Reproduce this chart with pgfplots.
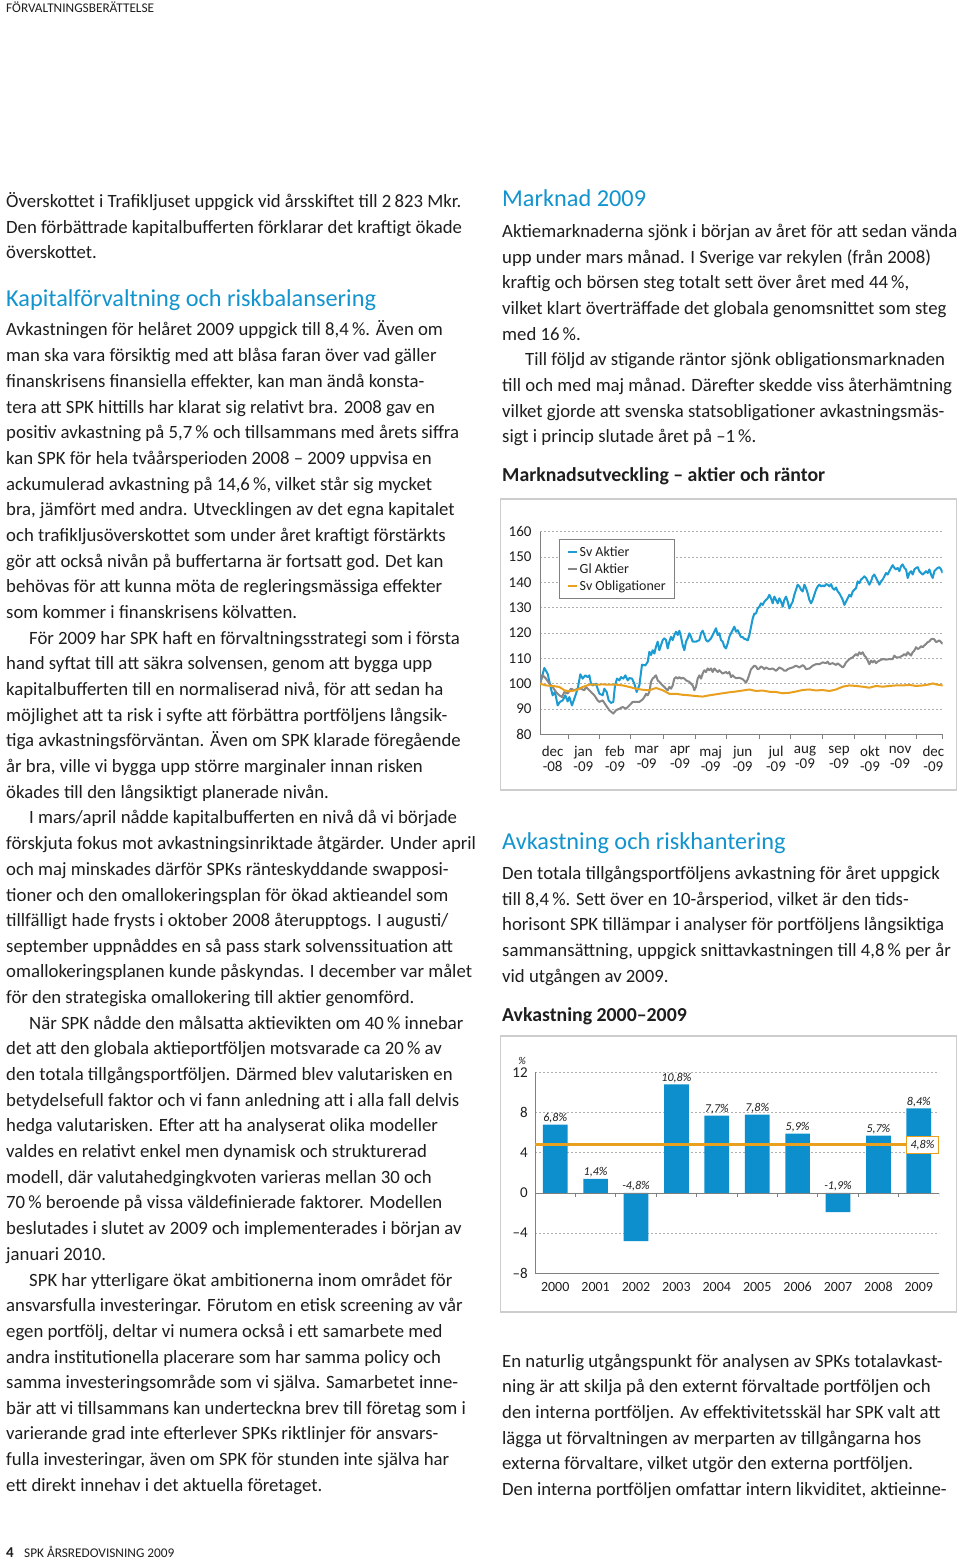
\documentclass[border=0pt]{standalone}
\usepackage{fontspec}
\setmainfont{Carlito}
\usepackage{pgfplots}
\usepackage{pgfplotstable}
\pgfplotsset{compat=1.18}
\definecolor{headblue}{RGB}{18,148,206}
\definecolor{barblue}{RGB}{13,143,205}
\definecolor{lineblue}{RGB}{27,155,209}
\definecolor{linegray}{RGB}{135,135,135}
\definecolor{lineorange}{RGB}{232,160,30}
\definecolor{framegray}{RGB}{205,205,205}
\definecolor{axisgray}{RGB}{128,128,128}
\definecolor{gridgray}{RGB}{175,175,175}
\definecolor{textcol}{RGB}{30,30,30}
\newcommand\bodyfont{\fontsize{18.75}{22}\selectfont}
\newcommand\headfont{\fontsize{24.3}{28}\selectfont}
\newcommand\subfont{\fontsize{19.8}{23}\bfseries\selectfont}
\newcommand\chartfont{\fontsize{15}{15}\selectfont}
\newcommand\legfont{\fontsize{14}{16}\selectfont}
\newcommand\labfont{\fontsize{12}{13}\itshape\selectfont}
\newcommand\Ln[3]{\node[anchor=base west,inner sep=0pt,font=\bodyfont,text=textcol] at (#1pt,-#2pt) {#3};}
\newcommand\Hd[3]{\node[anchor=base west,inner sep=0pt,font=\headfont,text=headblue] at (#1pt,-#2pt) {#3};}
\newcommand\Sb[3]{\node[anchor=base west,inner sep=0pt,font=\subfont,text=textcol] at (#1pt,-#2pt) {#3};}

\pgfplotstableread{
x y
120 100
133 106.2
143 103.9
153 98.0
158 95.4
165 96.7
173 91.4
180 92.8
188 93.4
196 95.4
203 93.0
208 94.7
216 91.4
223 94.1
233 98.0
241 103.7
248 102.0
256 103.3
263 102.6
268 103.3
273 100.0
278 99.3
288 100.0
293 98.0
298 96.1
308 95.4
313 98.0
320 96.7
326 93.4
333 92.4
340 92.8
345 99.3
351 102.0
358 101.3
363 102.6
370 102.0
376 103.3
383 101.3
388 102.2
396 102.0
403 100.0
410 96.7
418 99.3
426 107.5
436 107.2
443 108.6
448 112.6
453 111.3
458 113.2
463 111.9
468 114.6
473 116.6
478 113.2
483 115.2
488 117.2
493 117.9
498 117.2
503 113.9
508 116.6
513 118.5
518 117.2
523 119.2
528 120.5
533 119.2
538 120.9
543 118.5
548 115.2
553 113.2
558 116.6
563 117.9
568 119.9
573 118.5
578 116.6
588 116.6
598 117.2
603 119.9
608 120.9
613 119.2
618 117.2
623 116.6
628 117.2
633 117.9
638 119.2
643 120.5
648 121.9
653 119.2
658 119.9
663 117.2
668 116.6
673 114.6
678 113.9
683 115.9
688 118.5
693 119.9
698 121.2
703 122.5
708 120.5
713 121.1
718 119.7
723 118.4
728 118.4
733 117.7
738 117.5
743 117.1
748 119.1
753 122.4
758 125.7
763 127.7
768 127.7
773 129.7
778 130.4
783 131.7
788 131.1
793 132.4
798 133.1
803 133.7
808 135.1
813 133.7
818 131.7
823 134.4
828 133.1
833 131.7
838 133.7
843 132.4
848 130.4
853 133.1
858 134.4
863 132.4
868 129.7
873 131.1
878 132.4
883 135.1
888 137.1
893 139.1
898 138.4
903 137.1
908 136.4
913 139.1
918 137.7
923 135.7
928 133.1
933 131.7
938 133.1
943 135.1
948 137.1
953 138.4
958 139.1
963 138.4
968 138.8
973 138.4
978 139.3
983 139.1
988 138.4
993 139.3
998 137.7
1003 137.1
1008 138.0
1013 136.4
1018 135.7
1023 134.4
1028 133.1
1033 131.1
1038 132.4
1043 133.7
1048 135.1
1053 134.4
1058 136.4
1063 137.1
1068 137.7
1073 140.4
1078 139.7
1083 141.1
1088 141.7
1093 142.4
1098 141.7
1103 140.4
1108 139.1
1113 140.4
1118 142.4
1123 143.1
1128 141.7
1133 140.4
1138 139.1
1143 140.4
1148 141.1
1153 142.4
1158 143.7
1163 143.1
1168 144.4
1173 145.7
1178 146.8
1183 145.7
1188 145.1
1193 145.7
1198 144.4
1203 146.4
1208 147.1
1213 145.7
1218 145.1
1223 141.7
1228 143.7
1233 144.4
1238 143.1
1243 145.1
1248 145.7
1253 146.0
1258 144.4
1263 143.7
1268 143.1
1273 143.7
1278 144.4
1283 143.7
1288 145.1
1293 143.1
1298 141.7
1303 144.4
1308 145.1
1313 145.7
1318 146.0
1323 145.1
1328 143.7
}\svaktier

\pgfplotstableread{
x y
120 100
128 103.3
138 102.0
148 100.0
158 98.7
168 96.7
178 95.4
186 94.7
193 96.7
203 96.1
213 98.0
223 97.4
233 98.0
243 98.0
253 97.4
258 98.7
263 98.0
273 96.7
283 95.4
293 93.4
298 92.8
308 93.4
318 91.4
328 89.5
340 88.2
348 89.5
358 90.1
368 90.8
378 90.1
388 91.4
398 92.8
408 92.8
418 92.8
428 93.8
433 94.7
438 96.0
443 95.4
448 96.7
453 100.7
458 102.0
463 102.6
468 103.3
473 101.3
478 100.7
483 100.0
488 99.3
493 98.7
498 98.0
503 97.4
508 98.7
513 98.0
518 99.3
523 102.0
528 102.6
533 102.0
538 102.6
543 102.0
548 102.3
553 102.0
558 101.3
568 100.7
578 99.3
583 97.4
588 98.7
593 102.0
598 103.3
603 102.0
608 104.0
613 105.3
618 104.6
623 106.0
628 105.3
633 106.0
638 104.6
643 106.0
648 105.3
653 104.6
658 105.3
663 104.6
668 104.0
678 104.6
683 104.0
688 104.6
693 102.6
698 103.3
703 102.6
708 102.2
718 102.3
728 101.8
738 100.4
743 101.7
748 103.7
753 105.7
758 106.4
763 107.1
768 106.8
773 105.7
778 106.0
783 106.8
788 106.4
793 105.7
798 106.4
803 106.0
808 105.7
818 106.0
828 105.1
833 105.7
838 106.4
848 105.7
853 105.1
858 105.1
863 105.7
868 106.0
878 106.4
888 107.1
898 106.4
908 107.3
913 106.8
918 105.7
928 106.0
938 107.1
948 107.7
958 107.7
968 108.4
978 108.1
983 108.7
988 107.7
998 108.1
1008 107.4
1013 108.0
1018 107.5
1028 106.4
1033 107.1
1038 108.4
1048 109.7
1058 110.4
1063 111.1
1068 111.7
1073 111.1
1078 112.4
1083 111.7
1088 112.4
1093 111.1
1098 110.4
1103 109.1
1108 107.7
1113 109.1
1118 108.4
1123 109.1
1128 108.1
1133 108.7
1138 109.1
1148 109.7
1158 109.5
1168 109.7
1178 109.7
1183 111.1
1188 110.4
1198 110.4
1208 111.1
1213 111.7
1218 111.1
1223 112.4
1228 111.7
1233 111.1
1238 112.4
1243 113.1
1248 114.4
1253 113.7
1258 114.0
1263 114.8
1268 114.4
1273 115.1
1278 115.7
1283 116.4
1288 116.7
1293 117.5
1298 117.7
1303 117.5
1308 116.4
1313 116.7
1318 117.1
1323 116.4
1328 115.7
}\glaktier

\pgfplotstableread{
x y
120 100
138 99.3
158 99.1
178 98.7
193 97.4
208 97.0
228 97.4
248 98.7
268 99.6
288 99.6
308 99.7
328 99.6
348 99.6
368 99.3
388 98.7
408 98.0
428 97.6
448 97.4
468 98.3
488 97.4
508 96.0
528 96.0
548 95.6
568 95.4
588 95.1
608 94.9
628 95.4
648 95.8
668 96.2
688 96.6
708 96.9
728 97.3
748 97.7
768 97.1
788 97.3
808 96.8
828 96.7
848 96.2
868 96.4
888 96.9
908 97.5
928 97.7
948 97.3
968 97.5
988 97.1
1008 97.7
1028 98.8
1048 99.3
1068 99.1
1088 98.8
1108 98.4
1128 99.1
1148 98.8
1168 99.1
1188 99.3
1208 99.3
1228 99.5
1248 99.1
1268 99.3
1288 99.7
1298 100.1
1308 99.7
1328 99.3
}\svoblig

\pgfplotstableread{
x y
0 6.8
1 1.4
2 -4.8
3 10.8
4 7.7
5 7.8
6 5.9
7 -1.9
8 5.7
9 8.4
}\avk

\pgfplotstableread{
x y lab
0 6.8 6,8
1 1.4 1,4
2 0 -4,8
3 10.8 10,8
4 7.7 7,7
5 7.8 7,8
6 5.9 5,9
7 0 -1,9
8 5.7 5,7
9 8.4 8,4
}\avklab

\begin{document}
\begin{tikzpicture}
\path[use as bounding box] (0pt,0pt) rectangle (960pt,-1559pt);
\fill[white] (0pt,0pt) rectangle (960pt,-1559pt);

% header / footer
\node[anchor=base west,inner sep=0pt,font=\fontsize{13.3}{15}\selectfont,text=textcol] at (6pt,-12.3pt) {FÖRVALTNINGSBERÄTTELSE};
\node[anchor=base west,inner sep=0pt,font=\fontsize{15}{17}\bfseries\selectfont,text=textcol] at (6pt,-1557.5pt) {4};
\node[anchor=base west,inner sep=0pt,font=\fontsize{13.3}{15}\selectfont,text=textcol] at (24pt,-1557.5pt) {SPK ÅRSREDOVISNING 2009};

% left column
\Ln{6}{207}{Överskottet i Trafikljuset uppgick vid årsskiftet till 2\,823 Mkr.}
\Ln{6}{233}{Den förbättrade kapitalbufferten förklarar det kraftigt ökade}
\Ln{6}{258}{överskottet.}
\Hd{6}{306}{Kapitalförvaltning och riskbalansering}
\Ln{6}{335}{Avkastningen för helåret 2009 uppgick till 8,4\,\%. Även om}
\Ln{6}{361}{man ska vara försiktig med att blåsa faran över vad gäller}
\Ln{6}{387}{finanskrisens finansiella effekter, kan man ändå konsta-}
\Ln{6}{413}{tera att SPK hittills har klarat sig relativt bra. 2008 gav en}
\Ln{6}{438}{positiv avkastning på 5,7\,\% och tillsammans med årets siffra}
\Ln{6}{464}{kan SPK för hela tvåårsperioden 2008 – 2009 uppvisa en}
\Ln{6}{490}{ackumulerad avkastning på 14,6\,\%, vilket står sig mycket}
\Ln{6}{515}{bra, jämfört med andra. Utvecklingen av det egna kapitalet}
\Ln{6}{541}{och trafikljusöverskottet som under året kraftigt förstärkts}
\Ln{6}{567}{gör att också nivån på buffertarna är fortsatt god. Det kan}
\Ln{6}{592}{behövas för att kunna möta de regleringsmässiga effekter}
\Ln{6}{618}{som kommer i finanskrisens kölvatten.}
\Ln{29}{644}{För 2009 har SPK haft en förvaltningsstrategi som i första}
\Ln{6}{669}{hand syftat till att säkra solvensen, genom att bygga upp}
\Ln{6}{695}{kapitalbufferten till en normaliserad nivå, för att sedan ha}
\Ln{6}{721}{möjlighet att ta risk i syfte att förbättra portföljens långsik-}
\Ln{6}{746}{tiga avkastningsförväntan. Även om SPK klarade föregående}
\Ln{6}{772}{år bra, ville vi bygga upp större marginaler innan risken}
\Ln{6}{798}{ökades till den långsiktigt planerade nivån.}
\Ln{29}{823}{I mars/april nådde kapitalbufferten en nivå då vi började}
\Ln{6}{849}{förskjuta fokus mot avkastningsinriktade åtgärder. Under april}
\Ln{6}{875}{och maj minskades därför SPKs ränteskyddande swapposi-}
\Ln{6}{901}{tioner och den omallokeringsplan för ökad aktieandel som}
\Ln{6}{926}{tillfälligt hade frysts i oktober 2008 återupptogs. I augusti/}
\Ln{6}{952}{september uppnåddes en så pass stark solvenssituation att}
\Ln{6}{977}{omallokeringsplanen kunde påskyndas. I december var målet}
\Ln{6}{1003}{för den strategiska omallokering till aktier genomförd.}
\Ln{29}{1029}{När SPK nådde den målsatta aktievikten om 40\,\% innebar}
\Ln{6}{1054}{det att den globala aktieportföljen motsvarade ca 20\,\% av}
\Ln{6}{1080}{den totala tillgångsportföljen. Därmed blev valutarisken en}
\Ln{6}{1106}{betydelsefull faktor och vi fann anledning att i alla fall delvis}
\Ln{6}{1131}{hedga valutarisken. Efter att ha analyserat olika modeller}
\Ln{6}{1157}{valdes en relativt enkel men dynamisk och strukturerad}
\Ln{6}{1183}{modell, där valutahedgingkvoten varieras mellan 30 och}
\Ln{6}{1208}{70\,\% beroende på vissa väldefinierade faktorer. Modellen}
\Ln{6}{1234}{beslutades i slutet av 2009 och implementerades i början av}
\Ln{6}{1260}{januari 2010.}
\Ln{29}{1286}{SPK har ytterligare ökat ambitionerna inom området för}
\Ln{6}{1311}{ansvarsfulla investeringar. Förutom en etisk screening av vår}
\Ln{6}{1337}{egen portfölj, deltar vi numera också i ett samarbete med}
\Ln{6}{1363}{andra institutionella placerare som har samma policy och}
\Ln{6}{1388}{samma investeringsområde som vi själva. Samarbetet inne-}
\Ln{6}{1414}{bär att vi tillsammans kan underteckna brev till företag som i}
\Ln{6}{1439}{varierande grad inte efterlever SPKs riktlinjer för ansvars-}
\Ln{6}{1465}{fulla investeringar, även om SPK för stunden inte själva har}
\Ln{6}{1491}{ett direkt innehav i det aktuella företaget.}

% right column
\Hd{502}{206}{Marknad 2009}
\Ln{502}{237}{Aktiemarknaderna sjönk i början av året för att sedan vända}
\Ln{502}{263}{upp under mars månad. I Sverige var rekylen (från 2008)}
\Ln{502}{288}{kraftig och börsen steg totalt sett över året med 44\,\%,}
\Ln{502}{314}{vilket klart överträffade det globala genomsnittet som steg}
\Ln{502}{340}{med 16\,\%.}
\Ln{525}{365}{Till följd av stigande räntor sjönk obligationsmarknaden}
\Ln{502}{391}{till och med maj månad. Därefter skedde viss återhämtning}
\Ln{502}{417}{vilket gjorde att svenska statsobligationer avkastningsmäs-}
\Ln{502}{442}{sigt i princip slutade året på –1\,\%.}
\Sb{502}{481}{Marknadsutveckling – aktier och räntor}
\Hd{502}{849}{Avkastning och riskhantering}
\Ln{502}{879}{Den totala tillgångsportföljens avkastning för året uppgick}
\Ln{502}{905}{till 8,4\,\%. Sett över en 10-årsperiod, vilket är den tids-}
\Ln{502}{930}{horisont SPK tillämpar i analyser för portföljens långsiktiga}
\Ln{502}{956}{sammansättning, uppgick snittavkastningen till 4,8\,\% per år}
\Ln{502}{982}{vid utgången av 2009.}
\Sb{502}{1021}{Avkastning 2000–2009}
\Ln{502}{1367}{En naturlig utgångspunkt för analysen av SPKs totalavkast-}
\Ln{502}{1392}{ning är att skilja på den externt förvaltade portföljen och}
\Ln{502}{1418}{den interna portföljen. Av effektivitetsskäl har SPK valt att}
\Ln{502}{1444}{lägga ut förvaltningen av merparten av tillgångarna hos}
\Ln{502}{1469}{externa förvaltare, vilket utgör den externa portföljen.}
\Ln{502}{1495}{Den interna portföljen omfattar intern likviditet, aktieinne-}

% chart frames
\draw[framegray, line width=1.4pt] (500.7pt,-499pt) rectangle (956.7pt,-790pt);
\draw[framegray, line width=1.4pt] (500.7pt,-1036pt) rectangle (956.7pt,-1312pt);

% line chart
\begin{axis}[
  at={(540pt,-734.3pt)}, anchor=south west,
  scale only axis, width=402.7pt, height=202.6pt,
  xmin=120, xmax=1328, ymin=80, ymax=160,
  axis x line=bottom, axis y line=left,
  axis line style={-, axisgray, line width=0.8pt},
  ytick={80,90,100,110,120,130,140,150,160},
  yticklabels={80,90,100,110,120,130,140,150,160},
  ytick style={draw=none},
  yticklabel style={font=\chartfont, text=textcol, inner sep=0pt, xshift=-4pt},
  ymajorgrids,
  major grid style={gridgray, line width=0.6pt, dash pattern=on 2pt off 2pt},
  xtick={158,250,345,440,540,632,728,828,915,1017,1110,1200,1300},
  xticklabels={{dec\\-08},{jan\\-09},{feb\\-09},{mar\\-09},{apr\\-09},{maj\\-09},{jun\\-09},{jul\\-09},{aug\\-09},{sep\\-09},{okt\\-09},{nov\\-09},{dec\\-09}},
  xticklabel style={font=\chartfont, text=textcol, align=center, inner sep=0pt, yshift=-7pt},
  major x tick style={draw=none},
  minor xtick={204,297.5,392.5,490,586,680,778,871.5,966,1063.5,1155,1250,1328},
  minor x tick style={axisgray, line width=0.8pt},
  tick align=outside, minor tick length=5pt,
  legend style={at={(0.048,0.962)}, anchor=north west, draw=axisgray, line width=0.8pt,
    font=\legfont, fill=white, inner xsep=7.5pt, inner ysep=5pt, row sep=3pt,
    nodes={inner sep=1.5pt, text=textcol}},
  legend cell align=left,
  legend image code/.code={\draw[#1, line width=2pt] (0pt,0pt) -- (9pt,0pt);},
]
\addplot[lineblue, line width=2pt, line join=round] table[x=x,y=y] {\svaktier};
\addlegendentry{Sv Aktier}
\addplot[linegray, line width=2pt, line join=round] table[x=x,y=y] {\glaktier};
\addlegendentry{Gl Aktier}
\addplot[lineorange, line width=2pt, line join=round] table[x=x,y=y] {\svoblig};
\addlegendentry{Sv Obligationer}
\end{axis}

% bar chart
\node[font=\fontsize{10.5}{12}\itshape\selectfont, text=textcol, inner sep=0pt] at (522pt,-1061pt) {\%};
\begin{axis}[
  at={(535pt,-1273.3pt)}, anchor=south west,
  scale only axis, width=404pt, height=201pt,
  xmin=-0.5, xmax=9.5, ymin=-8, ymax=12,
  axis x line=bottom, axis y line=left,
  axis line style={-, axisgray, line width=0.8pt},
  ytick={-8,-4,0,4,8,12},
  yticklabels={–8,–4,0,4,8,12},
  ytick style={draw=none},
  yticklabel style={font=\fontsize{15}{16}\selectfont, text=textcol, inner sep=0pt, xshift=-5pt},
  ymajorgrids,
  major grid style={gridgray, line width=0.6pt, dash pattern=on 2pt off 2pt},
  xtick={0,1,2,3,4,5,6,7,8,9},
  xticklabels={2000,2001,2002,2003,2004,2005,2006,2007,2008,2009},
  xtick style={draw=none},
  xticklabel style={font=\fontsize{14}{15}\selectfont, text=textcol, inner sep=0pt,
    text height=10pt, text depth=0pt, yshift=-6pt},
]
\addplot[ybar, bar width=24.7pt, fill=barblue, draw=none] table[x=x,y=y] {\avk};
\draw[axisgray, line width=0.8pt] (axis cs:-0.5,0) -- (axis cs:9.5,0);
\pgfplotsinvokeforeach{0.5,1.5,2.5,3.5,4.5,5.5,6.5,7.5,8.5,9.5}{
  \draw[axisgray, line width=0.8pt] (axis cs:#1,0) -- ++(0pt,-4pt);
}
\addplot[draw=none, mark=none, nodes near coords={\pgfplotspointmeta\%},
  point meta=explicit symbolic,
  every node near coord/.append style={font=\labfont, text=textcol, anchor=south, inner sep=1.5pt}]
  table[x=x,y=y,meta=lab] {\avklab};
\addplot[lineorange, line width=3pt] coordinates {(-0.5,4.8) (9.5,4.8)}
  node[pos=1, anchor=east, draw=lineorange, line width=1pt, fill=white, font=\labfont,
       text=textcol, inner sep=1pt, minimum height=17pt, minimum width=32pt] {4,8\%};
\end{axis}
\end{tikzpicture}
\end{document}
